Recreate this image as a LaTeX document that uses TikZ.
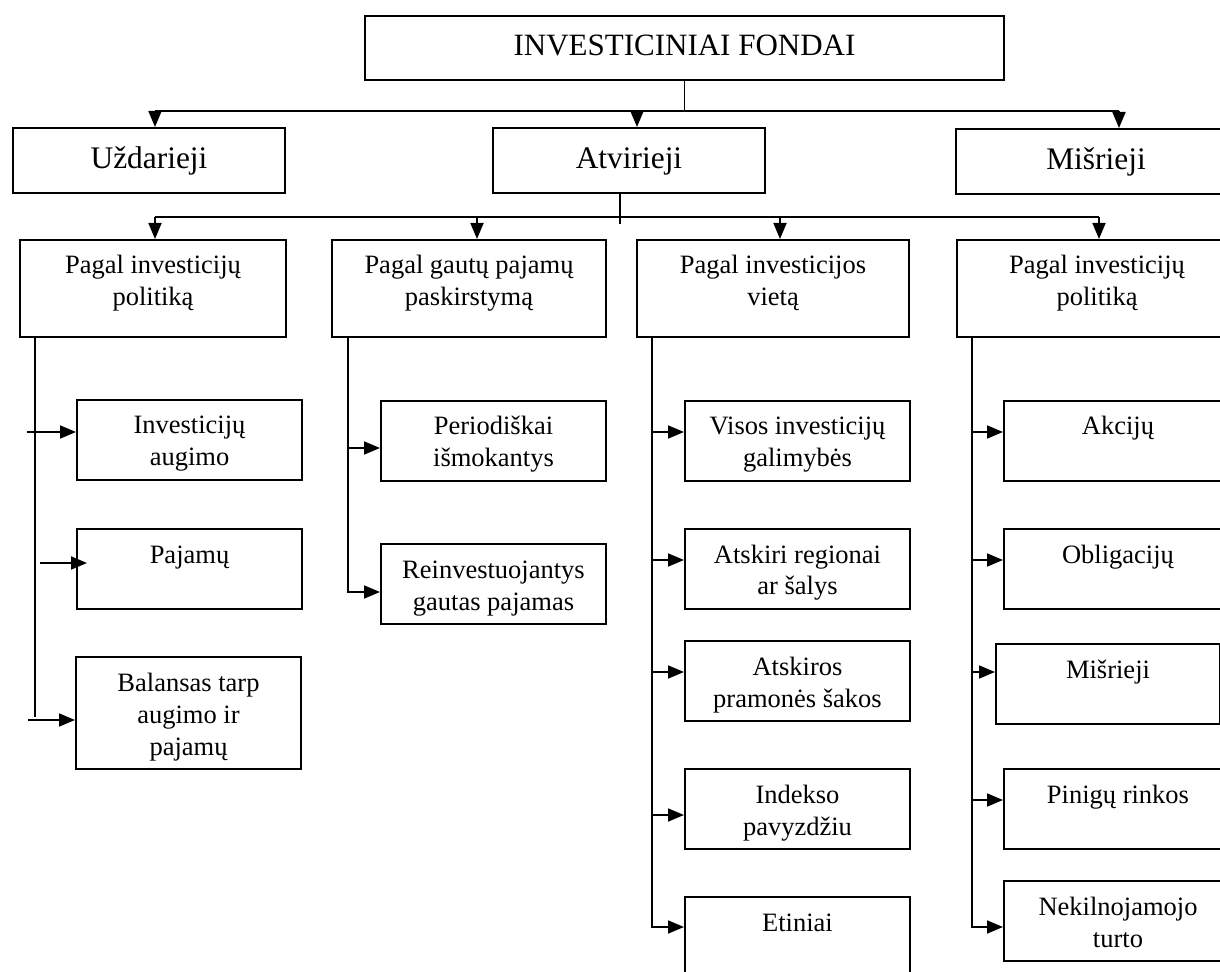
\documentclass[tikz,border=0pt]{standalone}
\usepackage{fontspec}
\setmainfont{Liberation Serif}
\usetikzlibrary{arrows.meta}
\newcommand{\boxtext}[1]{\parbox[t]{108pt}{\centering #1}}
\newcommand{\widetext}[1]{\parbox[t]{130pt}{\centering #1}}

\begin{document}
\begin{tikzpicture}[x=0.5pt,y=-0.5pt,
  box/.style={draw, line width=1pt, inner sep=0pt, anchor=north west},
  top/.style={box, minimum width=319.5pt, text height=20pt, text depth=12pt, font=\fontsize{15.5}{18}\selectfont},
  kind/.style={box, minimum width=136pt, text height=20.5pt, text depth=12pt, font=\fontsize{15.7}{18}\selectfont},
  group/.style={box, minimum width=136pt, text height=17pt, text depth=31.5pt, font=\fontsize{13.25}{16}\selectfont},
  leaf/.style={box, minimum width=112.5pt, text height=17pt, text depth=23pt, font=\fontsize{13.25}{16}\selectfont},
  line/.style={line width=0.9pt},
  arr/.style={line, -{Triangle[length=8pt,width=6.5pt]}}]
  \useasboundingbox (0,0) rectangle (1220,972);
  \clip (0,0) rectangle (1220,972);

  % top and first level
  \node[top] (fund) at (364,15) {INVESTICINIAI FONDAI};
  \node[kind] (closed) at (12,127) {Uždarieji};
  \node[kind] (open) at (492,127) {Atvirieji};
  \node[kind, minimum width=140pt] (mixed) at (955,128) {Mišrieji};

  % second level
  \node[group, minimum width=133pt] (policyA) at (19,239) {\widetext{Pagal investicijų\\politiką}};
  \node[group, minimum width=137pt] (income) at (331,239) {\widetext{Pagal gautų pajamų\\paskirstymą}};
  \node[group] (place) at (636,239) {\widetext{Pagal investicijos\\vietą}};
  \node[group, minimum width=140pt] (policyB) at (956,239) {\widetext{Pagal investicijų\\politiką}};

  % third level
  \node[leaf] (growth) at (76,399) {\boxtext{Investicijų\\augimo}};
  \node[leaf] (yield) at (76,528) {\boxtext{Pajamų}};
  \node[leaf, text depth=39pt] (balance) at (75,656) {\boxtext{Balansas tarp\\augimo ir\\pajamų}};

  \node[leaf] (payout) at (380,400) {\boxtext{Periodiškai\\išmokantys}};
  \node[leaf] (reinvest) at (380,543) {\boxtext{Reinvestuojantys\\gautas pajamas}};

  \node[leaf] (all) at (684,400) {\boxtext{Visos investicijų\\galimybės}};
  \node[leaf] (regions) at (684,528) {\boxtext{Atskiri regionai\\ar šalys}};
  \node[leaf] (sectors) at (684,640) {\boxtext{Atskiros\\pramonės šakos}};
  \node[leaf] (index) at (684,768) {\boxtext{Indekso\\pavyzdžiu}};
  \node[leaf, text depth=40pt] (ethic) at (684,896) {\boxtext{Etiniai}};

  \node[leaf, minimum width=114pt] (shares) at (1003,400) {\boxtext{Akcijų}};
  \node[leaf, minimum width=114pt] (bonds) at (1003,528) {\boxtext{Obligacijų}};
  \node[leaf, minimum width=112pt] (mixedB) at (995,643) {\boxtext{Mišrieji}};
  \node[leaf, minimum width=114pt] (money) at (1003,768) {\boxtext{Pinigų rinkos}};
  \node[leaf, minimum width=114pt] (estate) at (1003,880) {\boxtext{Nekilnojamojo\\turto}};

  % first bus
  \coordinate (b1) at (155,111);
  \coordinate (b2) at (637,111);
  \coordinate (b3) at (1119,111);
  \draw[line] (fund.south) -- (fund.south |- b1);
  \draw[line] (b1) -- (b3);
  \draw[arr] (b1) -- (b1 |- closed.north);
  \draw[arr] (b2) -- (b2 |- open.north);
  \draw[arr] (b3) -- (b3 |- mixed.north);

  % second bus
  \coordinate (s0) at (620,224);
  \coordinate (c1) at (155,217);
  \coordinate (c2) at (477,217);
  \coordinate (c3) at (780,217);
  \coordinate (c4) at (1099,217);
  \draw[line] (open.south -| s0) -- (s0);
  \draw[line] (c1) -- (c4);
  \draw[arr] (c1) -- (c1 |- policyA.north);
  \draw[arr] (c2) -- (c2 |- income.north);
  \draw[arr] (c3) -- (c3 |- place.north);
  \draw[arr] (c4) -- (c4 |- policyB.north);

  % column stems
  \coordinate (v1) at (35,717);
  \coordinate (v2) at (348,592);
  \coordinate (v3) at (652,927);
  \coordinate (v4) at (972,927);
  \draw[line] (policyA.south -| v1) -- (v1);
  \draw[arr] ([xshift=-4pt,yshift=-16.5pt]growth.north -| v1) -- ([yshift=-16.5pt]growth.north west);
  \draw[arr] ([xshift=2.5pt,yshift=-17.5pt]yield.north -| v1) -- ([xshift=5.5pt,yshift=-17.5pt]yield.north west);
  \draw[arr] ([xshift=-3.5pt,yshift=-32pt]balance.north -| v1) -- ([yshift=-32pt]balance.north west);

  \draw[arr] (income.south -| v2) -- (v2) -- (v2 -| reinvest.west);
  \draw[arr] ([yshift=-24pt]payout.north -| v2) -- ([yshift=-24pt]payout.north west);

  \draw[arr] (place.south -| v3) -- (v3) -- (v3 -| ethic.west);
  \foreach \n/\d in {all/16pt, regions/16pt, sectors/16pt, index/23.5pt}
    \draw[arr] ([yshift=-\d]\n.north -| v3) -- ([yshift=-\d]\n.north west);

  \draw[arr] (policyB.south -| v4) -- (v4) -- (v4 -| estate.west);
  \foreach \n/\d in {shares/16pt, bonds/16pt, mixedB/14.5pt, money/16pt}
    \draw[arr] ([yshift=-\d]\n.north -| v4) -- ([yshift=-\d]\n.north west);
\end{tikzpicture}
\end{document}
